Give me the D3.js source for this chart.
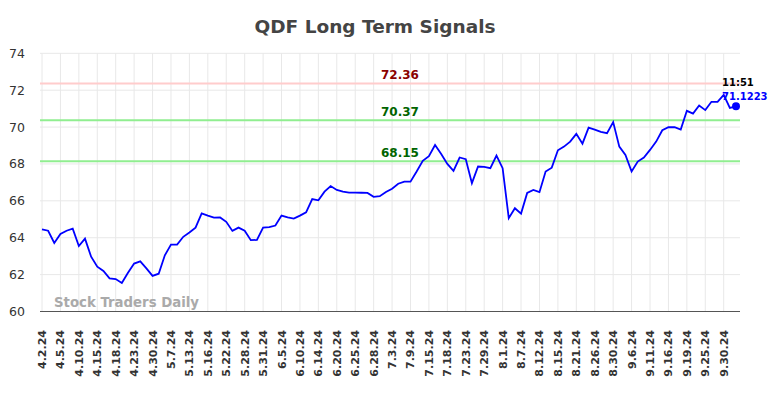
<!DOCTYPE html>
<html>
<head>
<meta charset="utf-8">
<script src="https://cdn.jsdelivr.net/npm/d3@7"></script>
<style>
	body { margin: 0; background: #fff; }
	text { font-family: 'DejaVu Sans', sans-serif; }
</style>
</head>
<body>
<script>
// tick labels, one for every third trading day
var tickLabels = ['4.2.24', '4.5.24', '4.10.24', '4.15.24', '4.18.24', '4.23.24', '4.30.24', '5.7.24',
	'5.13.24', '5.16.24', '5.22.24', '5.28.24', '5.31.24', '6.5.24', '6.10.24', '6.14.24', '6.20.24',
	'6.25.24', '6.28.24', '7.3.24', '7.9.24', '7.15.24', '7.18.24', '7.23.24', '7.29.24', '8.1.24',
	'8.7.24', '8.12.24', '8.15.24', '8.21.24', '8.26.24', '8.30.24', '9.6.24', '9.11.24', '9.16.24',
	'9.19.24', '9.25.24', '9.30.24'];

// closing prices
var prices = [64.45, 64.38, 63.72, 64.2, 64.38, 64.49, 63.55, 63.95, 62.97, 62.43,
	62.2, 61.8, 61.76, 61.55, 62.1, 62.6, 62.72, 62.34, 61.93, 62.05,
	63.05, 63.63, 63.63, 64.05, 64.28, 64.55, 65.32, 65.2, 65.09, 65.1,
	64.86, 64.37, 64.55, 64.38, 63.87, 63.88, 64.55, 64.57, 64.66, 65.2,
	65.1, 65.04, 65.2, 65.38, 66.1, 66.03, 66.5, 66.8, 66.59, 66.5,
	66.45, 66.45, 66.44, 66.43, 66.22, 66.25, 66.48, 66.66, 66.93, 67.04,
	67.04, 67.59, 68.17, 68.42, 69.03, 68.54, 68.0, 67.62, 68.35, 68.26,
	66.96, 67.86, 67.84, 67.77, 68.45, 67.77, 65.06, 65.6, 65.31, 66.43,
	66.59, 66.47, 67.59, 67.8, 68.74, 68.94, 69.21, 69.63, 69.1, 69.97,
	69.86, 69.74, 69.67, 70.27, 68.94, 68.49, 67.59, 68.13, 68.35, 68.76,
	69.21, 69.83, 69.99, 69.99, 69.86, 70.88, 70.73, 71.17, 70.92, 71.37,
	71.37, 71.75, 71.04, 71.1223];

// signal levels
var signalValues = [72.36, 70.37, 68.15];
var signalColors = ['#8b0000', '#006400', '#006400'];
var signalLineColors = ['#ffcccc', '#90ee90', '#90ee90'];

var yTicks = [60, 62, 64, 66, 68, 70, 72, 74];
var lastTime = '11:51';

var props = {
	width: 784,
	height: 398,
	left: 40,
	right: 740,
	top: 53.3,
	bottom: 311.5
};

var svg = d3.select('body')
	.append('svg')
		.attr('width', props.width)
		.attr('height', props.height);

var x = d3.scaleLinear()
	.domain([0, prices.length - 1])
	.range([42, 736]);

var y = d3.scaleLinear()
	.domain([60, 74])
	.range([props.bottom, props.top]);

// title
svg.append('text')
	.attr('x', 375)
	.attr('y', 33)
	.attr('text-anchor', 'middle')
	.style('font-size', '18.5px')
	.style('font-weight', 'bold')
	.style('fill', '#444')
	.text('QDF Long Term Signals');

// horizontal grid
svg.append('g')
	.selectAll('line')
	.data(yTicks)
	.enter()
	.append('line')
		.attr('x1', props.left)
		.attr('x2', props.right)
		.attr('y1', function(d) { return y(d); })
		.attr('y2', function(d) { return y(d); })
		.style('stroke', '#e8e8e8')
		.style('stroke-width', 1);

// vertical grid
svg.append('g')
	.selectAll('line')
	.data(tickLabels)
	.enter()
	.append('line')
		.attr('x1', function(d, i) { return x(i * 3); })
		.attr('x2', function(d, i) { return x(i * 3); })
		.attr('y1', props.top)
		.attr('y2', props.bottom)
		.style('stroke', '#e8e8e8')
		.style('stroke-width', 1);

// y labels
svg.append('g')
	.selectAll('text')
	.data(yTicks)
	.enter()
	.append('text')
		.attr('x', 25)
		.attr('y', function(d) { return y(d) + 4.5; })
		.attr('text-anchor', 'end')
		.style('font-size', '12.5px')
		.style('fill', '#333')
		.text(function(d) { return d; });

// x labels
svg.append('g')
	.selectAll('text')
	.data(tickLabels)
	.enter()
	.append('text')
		.attr('transform', function(d, i) {
			return 'translate(' + (x(i * 3) + 4) + ',330) rotate(-90)';
		})
		.attr('text-anchor', 'end')
		.style('font-size', '11px')
		.style('font-weight', 'bold')
		.style('fill', '#333')
		.text(function(d) { return d; });

// bottom axis line
svg.append('line')
	.attr('x1', props.left)
	.attr('x2', props.right)
	.attr('y1', props.bottom)
	.attr('y2', props.bottom)
	.style('stroke', '#555')
	.style('stroke-width', 1.2);

// signal lines
svg.append('g')
	.selectAll('line')
	.data(signalValues)
	.enter()
	.append('line')
		.attr('x1', props.left)
		.attr('x2', props.right)
		.attr('y1', function(d) { return y(d); })
		.attr('y2', function(d) { return y(d); })
		.style('stroke', function(d, i) { return signalLineColors[i]; })
		.style('stroke-width', 2);

svg.append('g')
	.selectAll('text')
	.data(signalValues)
	.enter()
	.append('text')
		.attr('x', 400)
		.attr('y', function(d) { return y(d) - 4.5; })
		.attr('text-anchor', 'middle')
		.style('font-size', '12px')
		.style('font-weight', 'bold')
		.style('fill', function(d, i) { return signalColors[i]; })
		.text(function(d) { return d.toFixed(2); });

// watermark
svg.append('text')
	.attr('x', 54)
	.attr('y', 307)
	.style('font-size', '13.3px')
	.style('font-weight', 'bold')
	.style('fill', '#aaa')
	.text('Stock Traders Daily');

// price line
var line = d3.line()
	.x(function(d, i) { return x(i); })
	.y(function(d) { return y(d); });

svg.append('path')
	.datum(prices)
	.attr('d', line)
	.style('fill', 'none')
	.style('stroke', '#0000ff')
	.style('stroke-width', 1.8);

// last point
var lastIdx = prices.length - 1;
svg.append('circle')
	.attr('cx', x(lastIdx))
	.attr('cy', y(prices[lastIdx]))
	.attr('r', 4)
	.style('fill', '#0000ff');

svg.append('text')
	.attr('x', 722)
	.attr('y', 86)
	.style('font-size', '10px')
	.style('font-weight', 'bold')
	.style('fill', '#000')
	.text(lastTime);

svg.append('text')
	.attr('x', 722)
	.attr('y', 100)
	.style('font-size', '10px')
	.style('font-weight', 'bold')
	.style('fill', '#0000ff')
	.text(prices[lastIdx]);
</script>
</body>
</html>
